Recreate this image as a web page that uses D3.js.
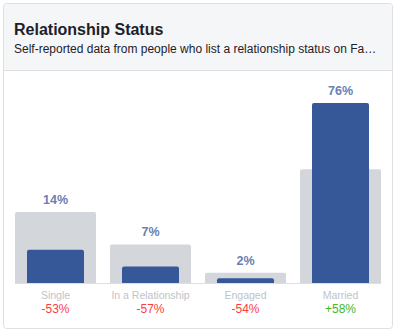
<!DOCTYPE html>
<html><head><meta charset="utf-8">
<script src="https://cdn.jsdelivr.net/npm/d3@7"></script>
<style>html,body{margin:0;padding:0;background:#fff;}svg{display:block;font-family:"Liberation Sans",Arial,Helvetica,sans-serif;}</style>
</head><body>
<svg id="c" width="396" height="332"></svg>
<script>
const categories = ["Single", "In a Relationship", "Engaged", "Married"];
const values = [14, 7, 2, 76];
const benchmark = [30, 16.3, 4.3, 48];
const changes = ["-53%", "-57%", "-54%", "+58%"];
const title = "Relationship Status";
const subtitle = "Self-reported data from people who list a relationship status on Facebook";

const svg = d3.select("#c");
// card
svg.append("rect").attr("x",3.5).attr("y",3.5).attr("width",389).attr("height",325).attr("rx",3)
  .attr("fill","#fff").attr("stroke","#dddfe2");
svg.append("path").attr("d","M4,70 V7 Q4,4 7,4 H389 Q392,4 392,7 V70 Z").attr("fill","#f5f6f7");
svg.append("line").attr("x1",4).attr("x2",392).attr("y1",70.5).attr("y2",70.5).attr("stroke","#dddfe2");
svg.append("text").attr("x",14).attr("y",35).attr("font-size",16).attr("font-weight","bold").attr("fill","#1d2129").text(title);
const sub = svg.append("text").attr("x",14).attr("y",53).attr("font-size",12).attr("fill","#1d2129").text(subtitle);
// truncate with ellipsis
(function(){const maxW=368;let s=subtitle;if(sub.node().getComputedTextLength()>maxW){while(s.length&&sub.text(s+"…").node().getComputedTextLength()>maxW){s=s.slice(0,-1);}sub.text(s.trimEnd()+"…");}})();

const x = d3.scaleBand().domain(categories).range([8,388]).paddingInner(14/95).paddingOuter(7/95);
const base = 283;
const y = d3.scaleLinear().domain([0,76]).range([base, 103]);
const inset = 12;

function topRounded(x0,y0,w,h,r){r=Math.min(r,h);return `M${x0},${y0+h}V${y0+r}Q${x0},${y0} ${x0+r},${y0}H${x0+w-r}Q${x0+w},${y0} ${x0+w},${y0+r}V${y0+h}Z`;}

const g = svg.append("g");
categories.forEach((c,i)=>{
  const bx = x(c), bw = x.bandwidth();
  const yb = y(benchmark[i]);
  g.append("path").attr("d",topRounded(bx,yb,bw,base-yb,2)).attr("fill","#d3d6db");
  const yv = y(values[i]);
  g.append("path").attr("d",topRounded(bx+inset,yv,bw-2*inset,base-yv,2)).attr("fill","#365899");
  g.append("text").attr("x",bx+bw/2).attr("y",Math.min(yv,yb)-8).attr("text-anchor","middle")
    .attr("font-size",12.5).attr("font-weight","bold").attr("fill","#6a7fb3").text(values[i]+"%");
  g.append("text").attr("x",bx+bw/2).attr("y",299).attr("text-anchor","middle").attr("font-size",10.5).attr("fill","#bec3c9").text(c);
  g.append("text").attr("x",bx+bw/2).attr("y",313).attr("text-anchor","middle").attr("font-size",12)
    .attr("fill",changes[i][0]==="+"?"#42b72a":"#fa3e3e").text(changes[i]);
});
svg.append("line").attr("x1",x(categories[0])).attr("x2",x(categories[3])+x.bandwidth()).attr("y1",base+0.5).attr("y2",base+0.5).attr("stroke","#dddfe2");
</script>
</body></html>
